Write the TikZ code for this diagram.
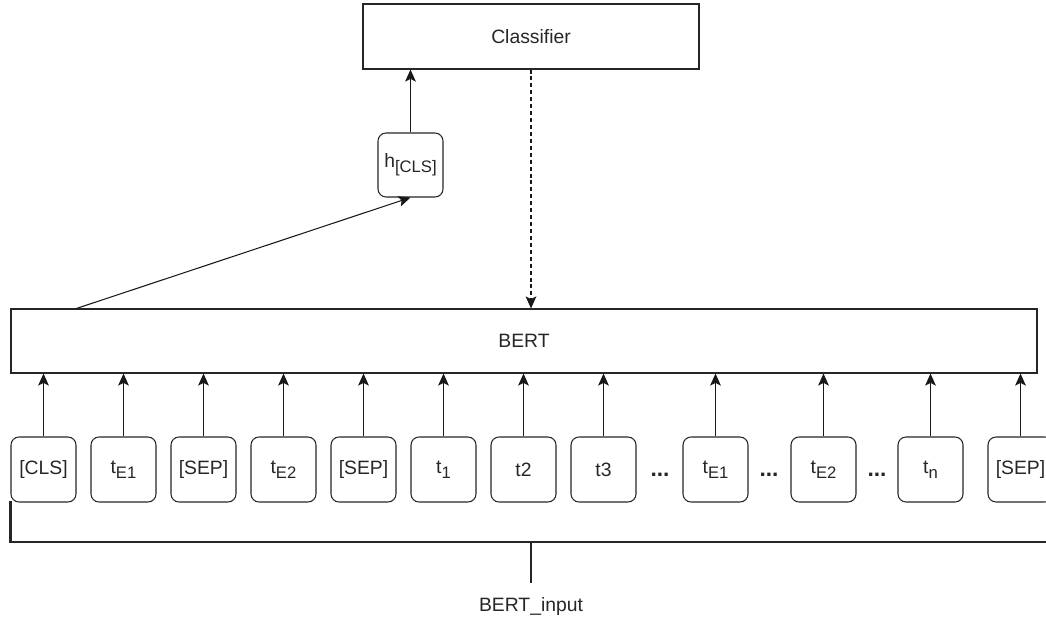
\documentclass[tikz,border=0pt]{standalone}
\usepackage{fontspec}
\setmainfont{Liberation Sans}
\usetikzlibrary{arrows.meta,calc}

% lowered, slightly reduced index text
\newcommand{\lowidx}[1]{\raisebox{-0.45ex}{\fontsize{12.5}{14}\selectfont #1}}

\begin{document}
\begin{tikzpicture}[x=0.75pt,y=-0.75pt,
    font=\fontsize{14.5}{17}\selectfont,
    text=black!85,
    box/.style={draw=black!85,line width=0.8pt,rectangle,inner sep=0pt},
    tok/.style={box,rounded corners=6pt,minimum width=48.75pt,minimum height=48.75pt},
    arr/.style={line width=0.8pt,draw=black!90,-{Stealth[length=9pt,width=8pt,inset=2pt]}},
    dots/.style={inner sep=0pt,font=\fontsize{17}{19}\bfseries}
  ]
  \clip (0,0) rectangle (1046,620);
  \useasboundingbox (0,0) rectangle (1046,620);

  % top blocks
  \node[box,minimum width=252pt,minimum height=48.75pt] (cls) at (531,36.5) {Classifier};
  \node[tok,minimum height=48pt] (hcls) at (410.5,165) {h\lowidx{[CLS]}};
  \node[box,minimum width=769.5pt,minimum height=48pt] (bert) at (524,341) {BERT};

  % input tokens
  \node[tok] (k1)  at (43.5,469.5)  {[CLS]};
  \node[tok] (k2)  at (123.5,469.5) {t\lowidx{E1}};
  \node[tok] (k3)  at (203.5,469.5) {[SEP]};
  \node[tok] (k4)  at (283.5,469.5) {t\lowidx{E2}};
  \node[tok] (k5)  at (363.5,469.5) {[SEP]};
  \node[tok] (k6)  at (443.5,469.5) {t\lowidx{1}};
  \node[tok] (k7)  at (523.5,469.5) {t2};
  \node[tok] (k8)  at (603.5,469.5) {t3};
  \node[tok] (k9)  at (715.5,469.5) {t\lowidx{E1}};
  \node[tok] (k10) at (823.5,469.5) {t\lowidx{E2}};
  \node[tok] (k11) at (930.5,469.5) {t\lowidx{n}};
  \node[tok] (k12) at (1020.5,469.5) {[SEP]};

  \node[dots] (d1) at (660,475) {...};
  \node[dots] (d2) at (769,475) {...};
  \node[dots] (d3) at (877,475) {...};

  % token -> BERT
  \foreach \k in {k1,k2,k3,k4,k5,k6,k7,k8,k9,k10,k11,k12}
    \draw[arr] (\k.north) -- (\k.north |- bert.south);

  % BERT -> h[CLS] -> Classifier, feedback into BERT
  \coordinate (bout) at ($(bert.north west)+(66,0)$);
  \draw[arr] (bout) -- (hcls.south);
  \draw[arr] (hcls.north) -- (hcls.north |- cls.south);
  \draw[arr,dash pattern=on 3pt off 2.2pt] (cls.south) -- (cls.south |- bert.north);

  % input bracket
  \node[inner sep=0pt] (lbl) at (531,606) {BERT\_input};
  \coordinate (bl) at ($(k1.south west)+(0,-2)$);
  \coordinate (bm) at (531,542);
  \draw[line width=2.2pt,draw=black!85] (bl) -- (bl |- bm) -- (1060,542);
  \draw[line width=2.2pt,draw=black!85] (bm) -- ($(lbl.north)+(0,-14)$);
\end{tikzpicture}
\end{document}
